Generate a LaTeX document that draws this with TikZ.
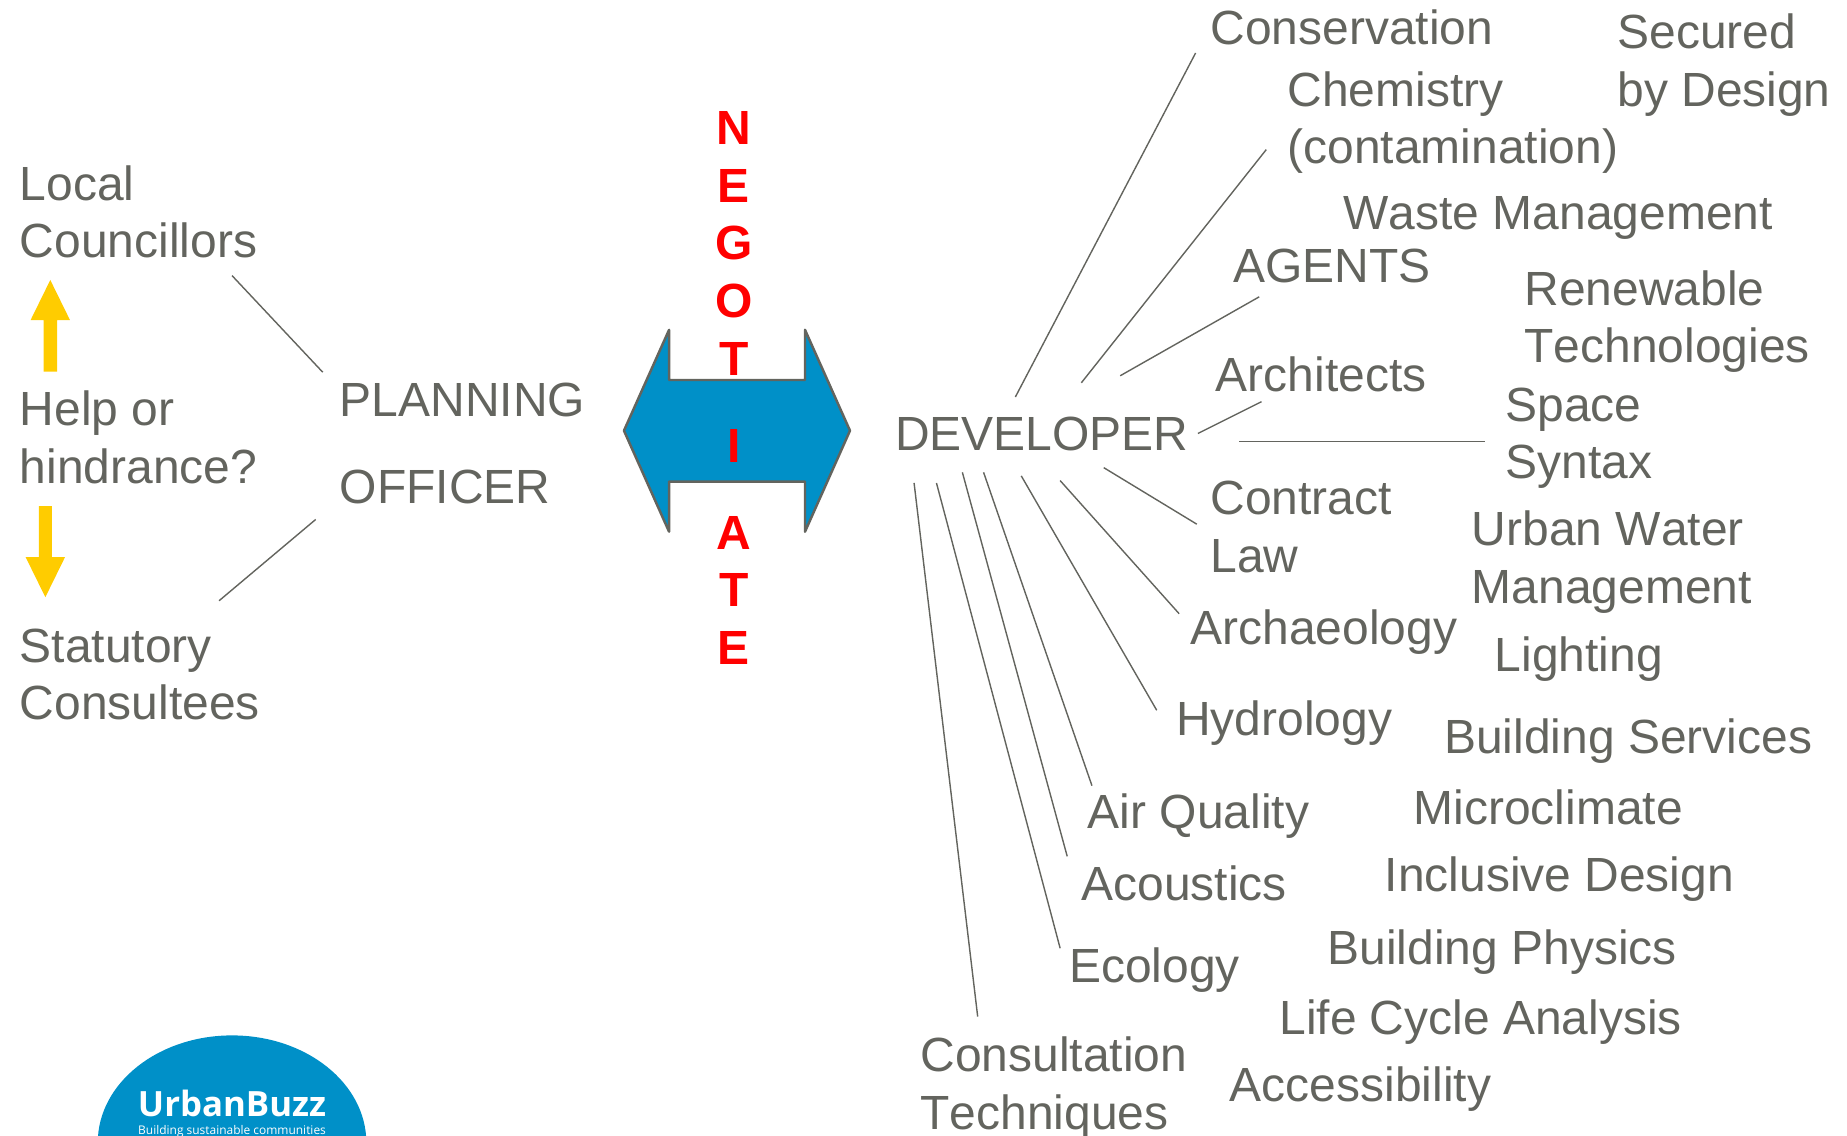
\documentclass[tikz,border=0pt]{standalone}
\usepackage{fontspec}
\setmainfont[Kerning=Off]{Liberation Sans}
\newfontfamily\logofont{Open Sans}
\definecolor{txtgray}{HTML}{63645E}
\definecolor{arrowblue}{HTML}{0090C8}
\definecolor{arrowyellow}{HTML}{FFCC00}
\tikzset{
  lbl/.style={anchor=base west, inner sep=0pt, align=left, text=txtgray, font=\fontsize{13.65}{16.4}\selectfont},
  neg/.style={anchor=base, inner sep=0pt, align=center, text=red, font=\fontsize{13.65}{16.4}\selectfont\bfseries},
  link/.style={draw=txtgray, line width=.4pt}
}
\begin{document}
\begin{tikzpicture}[x=.0117793cm, y=-.0117793cm]
        \useasboundingbox (0,0) rectangle (1568,963.6) ;

        \draw [fill=arrowblue, draw=txtgray, line width=.7pt, line join=round] (529.7,365.6) -- (568,280) -- (568,322.6) -- (683.4,322.6) -- (683.4,280) -- (721.6,365.6) -- (683.4,451.4) -- (683.4,408.9) -- (568,408.9) -- (568,451.4) -- cycle ;
        \fill [arrowyellow] (42.7,237.7) -- (59.4,271.7) -- (48.4,271.7) -- (48.4,315.5) -- (37,315.5) -- (37,271.7) -- (26,271.7) -- cycle ;
        \fill [arrowyellow] (38.5,507) -- (55.2,473) -- (44.1,473) -- (44.1,429.6) -- (33.1,429.6) -- (33.1,473) -- (21.8,473) -- cycle ;

        \node [neg] (negot) at (623,318.5) {N\\E\\G\\O\\T} ;
        \node [neg] (negi) at (623,393) {I} ;
        \node [neg] (negate) at (623,564) {A\\T\\E} ;

        \node [lbl] (local) at (16.3,219) {Local\\Councillors} ;
        \node [lbl] (help) at (16.3,410.5) {Help or\\hindrance?} ;
        \node [lbl] (stat) at (16.3,611) {Statutory\\Consultees} ;
        \node [lbl] (plan) at (288,427.5) {PLANNING\\[8.4pt]OFFICER} ;
        \node [lbl] (dev) at (759.5,382.5) {DEVELOPER} ;

        \node [lbl] (cons) at (1027,38) {Conservation} ;
        \node [lbl] (secured) at (1372.5,90.5) {Secured\\by Design} ;
        \node [lbl] (chem) at (1092.5,139) {Chemistry\\(contamination)} ;
        \node [lbl] (waste) at (1140,195) {Waste Management} ;
        \node [lbl] (agents) at (1046.5,240) {AGENTS} ;
        \node [lbl] (renew) at (1293.5,308) {Renewable\\Technologies} ;
        \node [lbl] (arch) at (1031.5,332) {Architects} ;
        \node [lbl] (space) at (1277.5,406.5) {Space\\Syntax} ;
        \node [lbl] (contract) at (1027,486) {Contract\\Law} ;
        \node [lbl] (water) at (1249,512) {Urban Water\\Management} ;
        \node [lbl] (archae) at (1010,547) {Archaeology} ;
        \node [lbl] (light) at (1268.5,570) {Lighting} ;
        \node [lbl] (hydro) at (998,624.5) {Hydrology} ;
        \node [lbl] (serv) at (1225.5,640) {Building Services} ;
        \node [lbl] (air) at (923,703.5) {Air Quality} ;
        \node [lbl] (micro) at (1199.5,700) {Microclimate} ;
        \node [lbl] (acou) at (917.5,764.5) {Acoustics} ;
        \node [lbl] (incl) at (1175,757) {Inclusive Design} ;
        \node [lbl] (eco) at (907,834) {Ecology} ;
        \node [lbl] (phys) at (1126.5,818.5) {Building Physics} ;
        \node [lbl] (life) at (1085.5,878) {Life Cycle Analysis} ;
        \node [lbl] (consult) at (781,958.5) {Consultation\\Techniques} ;
        \node [lbl] (access) at (1043.5,935) {Accessibility} ;

        \draw [link] ([shift={(180.7,15)}]local.base west) -- ([shift={(-14,-111.5)}]plan.base west) ;
        \draw [link] ([shift={(169.7,-101)}]stat.base west) -- ([shift={(-20,13.5)}]plan.base west) ;

        \draw [link] ([shift={(102.5,-45.5)}]dev.base west) -- ([shift={(-12,7)}]cons.base west) ;
        \draw [link] ([shift={(158.5,-57.5)}]dev.base west) -- ([shift={(-17.5,-12)}]chem.base west) ;
        \draw [link] ([shift={(191.5,-63.5)}]dev.base west) -- ([shift={(22.5,12)}]agents.base west) ;
        \draw [link] ([shift={(257.5,-14.5)}]dev.base west) -- ([shift={(39.5,9)}]arch.base west) ;
        \draw [link] ([shift={(292.5,-7.5)}]dev.base west) -- ([shift={(-16.5,-31.5)}]space.base west) ;
        \draw [link] ([shift={(177.5,14.5)}]dev.base west) -- ([shift={(-11,-41)}]contract.base west) ;
        \draw [link] ([shift={(140.5,25.5)}]dev.base west) -- ([shift={(-9,-26)}]archae.base west) ;
        \draw [link] ([shift={(107.5,21.5)}]dev.base west) -- ([shift={(-16,-21.5)}]hydro.base west) ;
        \draw [link] ([shift={(75.5,18.5)}]dev.base west) -- ([shift={(4,-36.5)}]air.base west) ;
        \draw [link] ([shift={(57.5,18.5)}]dev.base west) -- ([shift={(-11.5,-37.5)}]acou.base west) ;
        \draw [link] ([shift={(35.5,27.5)}]dev.base west) -- ([shift={(-7,-29)}]eco.base west) ;
        \draw [link] ([shift={(16.5,27.5)}]dev.base west) -- ([shift={(49,-95.5)}]consult.base west) ;

        \begin{scope}
          \clip (0,0) rectangle (1568,963.6) ;
          \fill [arrowblue] (197,970) ellipse [x radius=114, y radius=91] ;
          \node [anchor=base, inner sep=0pt, text=white, font=\logofont\fontsize{9.9}{10}\selectfont\bfseries] (buzz) at (197,948) {UrbanBuzz} ;
          \node [anchor=base, inner sep=0pt, text=white, font=\logofont\fontsize{3.4}{4}\selectfont] (buzzsub) at (197,963) {Building sustainable communities} ;
        \end{scope}
      \end{tikzpicture}
\end{document}
